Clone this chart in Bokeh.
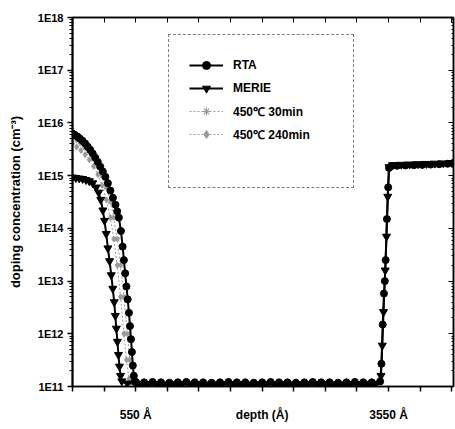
from bokeh.plotting import figure
from bokeh.models import FixedTicker, LinearAxis, LogAxis, Legend, LegendItem, Range1d
from bokeh.embed import file_html
from bokeh.resources import INLINE

# ---------------- data ----------------
rta_depth = [-200, -170, -140, -110, -80, -50, -20, 10, 40, 70, 100, 130, 160, 190, 220, 250, 280, 310, 330,
             350, 375, 395, 410, 425, 440, 455, 470, 482, 494, 505, 516, 528, 540, 555,
             650, 750, 850, 950, 1050, 1150, 1250, 1350, 1450, 1550, 1650, 1750, 1850, 1950, 2050, 2150,
             2250, 2350, 2450, 2550, 2650, 2750, 2850, 2950, 3050, 3150, 3250, 3350, 3450,
             3465, 3480, 3495, 3505, 3515, 3530, 3545, 3555, 3580,
             3650, 3750, 3850, 3950, 4050, 4150, 4250, 4320]
rta_conc = [6.31e15, 5.89e15, 5.50e15, 5.01e15, 4.57e15, 4.07e15, 3.55e15, 3.09e15, 2.63e15, 2.19e15, 1.82e15,
            1.48e15, 1.20e15, 9.5e14, 7.2e14, 5.2e14, 3.8e14, 2.8e14, 2.1e14,
            1.6e14, 8.9e13, 4.5e13, 2.5e13, 1.4e13, 7.9e12, 4.5e12, 2.5e12, 1.4e12, 7.9e11, 4.5e11, 2.5e11,
            1.6e11, 1.26e11, 1.2e11,
            1.2e11, 1.22e11, 1.2e11, 1.18e11, 1.2e11, 1.22e11, 1.2e11, 1.2e11, 1.18e11, 1.2e11, 1.22e11,
            1.2e11, 1.2e11, 1.18e11, 1.2e11, 1.22e11, 1.2e11, 1.2e11, 1.18e11, 1.2e11, 1.22e11, 1.2e11,
            1.2e11, 1.18e11, 1.2e11, 1.22e11, 1.2e11, 1.2e11, 1.25e11,
            2.7e11, 1.5e12, 5.8e12, 1.0e13, 2.5e13, 1.5e14, 6.0e14, 1.4e15, 1.52e15,
            1.54e15, 1.56e15, 1.58e15, 1.6e15, 1.62e15, 1.65e15, 1.68e15, 1.7e15]

merie_depth = [-200, -160, -120, -80, -40, 0, 40, 80, 110, 135, 160, 180, 200, 220, 240, 260, 278, 295,
               308, 320, 333, 345, 357, 370, 385,
               450, 550, 600, 700, 800, 900, 1000, 1100, 1200, 1300, 1400, 1500, 1600, 1700, 1800, 1900,
               2000, 2100, 2200, 2300, 2400, 2500, 2600, 2700, 2800, 2900, 3000, 3100, 3200, 3300, 3400,
               3460, 3475, 3490, 3510, 3525, 3540, 3555, 3600,
               3700, 3800, 3900, 4000, 4100, 4200, 4300]
merie_conc = [9.3e14, 9.1e14, 8.9e14, 8.7e14, 8.3e14, 7.9e14, 7.2e14, 6.0e14, 4.8e14, 3.5e14, 2.2e14,
              1.4e14, 7.9e13, 4.2e13, 2.4e13, 1.3e13, 7.2e12, 4.0e12, 2.2e12, 1.26e12, 7.1e11, 4.0e11,
              2.4e11, 1.6e11, 1.26e11,
              1.15e11, 1.12e11, 1.1e11, 1.12e11, 1.1e11, 1.08e11, 1.1e11, 1.12e11, 1.1e11, 1.1e11, 1.08e11,
              1.1e11, 1.12e11, 1.1e11, 1.1e11, 1.08e11, 1.1e11, 1.12e11, 1.1e11, 1.1e11, 1.08e11, 1.1e11,
              1.12e11, 1.1e11, 1.1e11, 1.08e11, 1.1e11, 1.12e11, 1.1e11, 1.1e11, 1.12e11,
              1.6e11, 6.0e11, 2.6e12, 1.6e13, 7.0e13, 4.0e14, 1.45e15, 1.6e15,
              1.62e15, 1.64e15, 1.66e15, 1.68e15, 1.7e15, 1.72e15, 1.75e15]

t30_depth = [-200, -150, -100, -50, 0, 50, 100, 150, 200, 250, 290, 330, 370, 410, 450, 480, 510]
t30_conc = [5.2e15, 4.7e15, 4.1e15, 3.4e15, 2.75e15, 2.1e15, 1.5e15, 1.0e15, 6.0e14, 3.2e14, 1.6e14,
            6.3e13, 2.0e13, 5.0e12, 1.0e12, 3.2e11, 1.4e11]

t240_depth = [-200, -150, -100, -50, 0, 50, 100, 150, 200, 250, 290, 330, 370, 410, 440, 470]
t240_conc = [4.0e15, 3.5e15, 3.0e15, 2.5e15, 2.0e15, 1.5e15, 1.05e15, 6.6e14, 3.5e14, 1.6e14, 6.3e13,
             2.0e13, 5.0e12, 1.0e12, 3.2e11, 1.4e11]

x_ticks = [-200, 175, 550, 925, 1300, 1675, 2050, 2425, 2800, 3175, 3550, 3925, 4300]
x_tick_labels = {550: "550 Å", 2050: "depth (Å)", 3550: "3550 Å"}

y_ticks = [1e11, 1e12, 1e13, 1e14, 1e15, 1e16, 1e17, 1e18]
y_tick_labels = ["1E11", "1E12", "1E13", "1E14", "1E15", "1E16", "1E17", "1E18"]
y_minor = [m * 10.0 ** e for e in range(11, 18) for m in range(2, 10)]

series_labels = ["RTA", "MERIE", "450℃ 30min", "450℃ 240min"]

FONT = "Liberation Sans"

# ---------------- figure ----------------
p = figure(width=455, height=429, x_range=Range1d(-200, 4320), y_range=Range1d(1e11, 1e18),
           y_axis_type="log", output_backend="svg", toolbar_location=None,
           min_border_left=72, min_border_right=2, min_border_top=17, min_border_bottom=43,
           background_fill_color="white", border_fill_color="white")
p.grid.visible = False
p.outline_line_color = "black"
p.outline_line_width = 1.5

gray = "#9a9a9a"
l30 = p.line(t30_depth, t30_conc, line_color=gray, line_width=1, line_dash="2 2")
s30 = p.scatter(t30_depth, t30_conc, marker="asterisk", size=6, line_color=gray, line_width=1.2)
l240 = p.line(t240_depth, t240_conc, line_color=gray, line_width=1, line_dash="2 2")
s240 = p.scatter(t240_depth, t240_conc, marker="diamond", size=6, fill_color=gray, line_color=gray)

lm = p.line(merie_depth, merie_conc, line_color="black", line_width=2)
sm = p.scatter(merie_depth, merie_conc, marker="inverted_triangle", size=8, fill_color="black", line_color="black")
lr = p.line(rta_depth, rta_conc, line_color="black", line_width=2)
sr = p.scatter(rta_depth, rta_conc, marker="circle", size=7, fill_color="black", line_color="black")

# invisible spacer entry, so the legend box keeps the blank band at its bottom
spacer = p.line([], [], line_alpha=0)

# axes
xa = p.xaxis[0]
xa.ticker = FixedTicker(ticks=x_ticks)
xa.major_label_overrides = {t: x_tick_labels.get(t, "") for t in x_ticks}
xa.major_tick_out = 5
xa.major_tick_in = 0
xa.minor_tick_line_color = None
xa.major_label_standoff = 16
xa.axis_line_width = 1.5
xa.major_tick_line_width = 1.5
xa.major_label_text_font = FONT
xa.major_label_text_font_style = "bold"
xa.major_label_text_font_size = "12px"
xa.major_label_text_color = "black"

ya = p.yaxis[0]
ya.ticker = FixedTicker(ticks=y_ticks, minor_ticks=y_minor)
ya.major_label_overrides = dict(zip(y_ticks, y_tick_labels))
ya.major_tick_out = 5
ya.major_tick_in = 0
ya.minor_tick_out = 3
ya.minor_tick_in = 1
ya.major_label_standoff = 4
ya.axis_line_width = 2
ya.major_tick_line_width = 1.5
ya.major_label_text_font = FONT
ya.major_label_text_font_style = "bold"
ya.major_label_text_font_size = "11px"
ya.major_label_text_color = "black"
ya.axis_label = "doping concentration (cm⁻³)"
ya.axis_label_text_font = FONT
ya.axis_label_text_font_style = "bold"
ya.axis_label_text_font_size = "13px"
ya.axis_label_text_color = "black"
ya.axis_label_standoff = 12

top = LinearAxis(ticker=FixedTicker(ticks=x_ticks), major_tick_in=5, major_tick_out=0,
                 minor_tick_line_color=None, major_label_standoff=0,
                 major_label_overrides={t: "" for t in x_ticks}, axis_line_width=1.5)
p.add_layout(top, "above")
right = LogAxis(ticker=FixedTicker(ticks=y_ticks, minor_ticks=y_minor), major_tick_in=5, major_tick_out=0,
                minor_tick_in=2, minor_tick_out=0, major_label_standoff=0,
                major_label_overrides={t: "" for t in y_ticks}, axis_line_width=1.5)
p.add_layout(right, "right")

legend = Legend(items=[
    LegendItem(label=series_labels[0], renderers=[lr, sr]),
    LegendItem(label=series_labels[1], renderers=[lm, sm]),
    LegendItem(label=series_labels[2], renderers=[l30, s30]),
    LegendItem(label=series_labels[3], renderers=[l240, s240]),
    LegendItem(label=" ", renderers=[spacer]),
], location=(96, 198))
legend.padding = 20
legend.spacing = 3
legend.glyph_height = 20
legend.label_height = 20
legend.glyph_width = 34
legend.label_standoff = 10
legend.label_width = 100
legend.label_text_font = FONT
legend.label_text_font_style = "bold"
legend.label_text_font_size = "12px"
legend.label_text_color = "black"
legend.border_line_color = "black"
legend.border_line_width = 1
legend.border_line_dash = "2 1"
legend.background_fill_alpha = 1
legend.margin = 0
p.add_layout(legend)

open("out.html", "w").write(file_html(p, INLINE))
